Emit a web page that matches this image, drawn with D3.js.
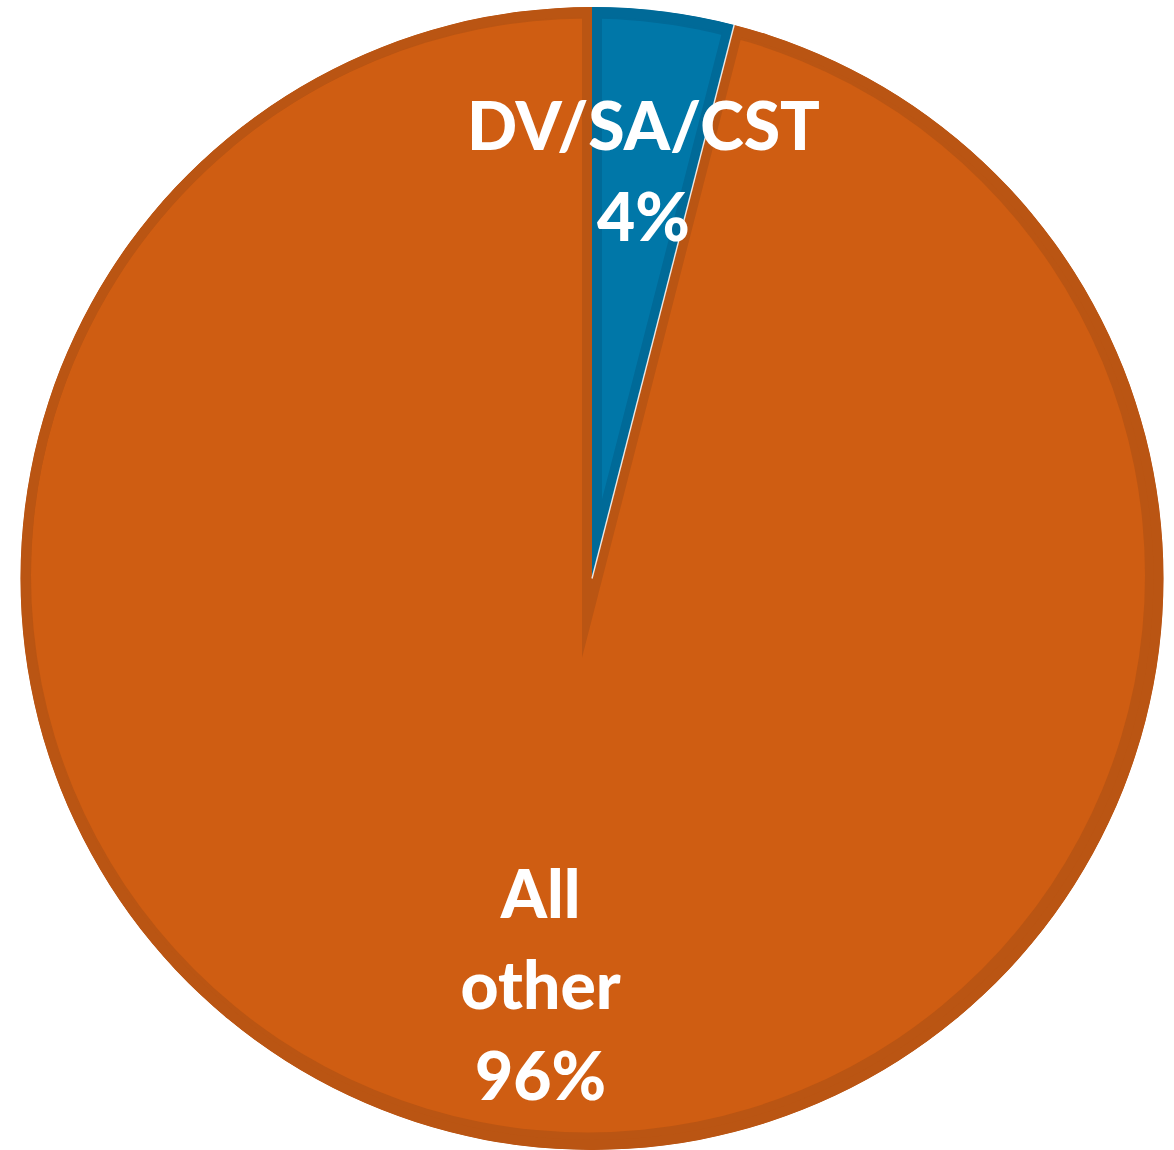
<!DOCTYPE html>
<html><head><meta charset="utf-8">
<script src="https://cdn.jsdelivr.net/npm/d3@7"></script>
<style>html,body{margin:0;padding:0;background:#fff;} svg{display:block}</style>
</head><body>
<svg id="chart" width="1174" height="1150"></svg>
<script>
const categories = ["DV/SA/CST", "All other"];
const values = [4, 96];
const fillColors = ["#0077A8", "#CF5D12"];
const borderColors = ["#006A98", "#BA5513"];

const cx = 592, cy = 578.5, R = 571.5, labelR = 410;
const svg = d3.select("#chart");
const g = svg.append("g").attr("transform", `translate(${cx},${cy})`);
const data = categories.map((c, i) => ({category: c, value: values[i], fill: fillColors[i], border: borderColors[i]}));
const pie = d3.pie().sort(null).value(d => d.value);
const arcs = pie(data);
const arc = d3.arc().innerRadius(0).outerRadius(R);
const total = d3.sum(values);

const defs = svg.append("defs");
arcs.forEach((a, i) => {
  defs.append("clipPath").attr("id", "clip" + i).append("path").attr("d", arc(a));
});

const slices = g.selectAll("g.slice").data(arcs).join("g")
  .attr("class", "slice")
  .attr("clip-path", (d, i) => `url(#clip${i})`);
slices.append("path").attr("d", arc).attr("fill", d => d.data.border);
slices.append("circle").attr("cx", -4).attr("cy", -3).attr("r", R - 14.5).attr("fill", d => d.data.fill);
slices.append("path").attr("d", arc)
  .attr("fill", "none")
  .attr("stroke", d => d.data.border)
  .attr("stroke-width", 20)
  .attr("stroke-linejoin", "miter")
  .attr("stroke-miterlimit", 30);

// thin light edge between the first slice and the next
const endA = arcs[0].endAngle;
g.append("line")
  .attr("x1", 0).attr("y1", 0)
  .attr("x2", R * Math.sin(endA)).attr("y2", -R * Math.cos(endA))
  .attr("stroke", "#ffffff").attr("stroke-width", 1.4).attr("stroke-opacity", 0.85);

// labels
const labelArc = d3.arc().innerRadius(labelR).outerRadius(labelR);
const lh = 91, cap = 48;
arcs.forEach(a => {
  const [x, y] = labelArc.centroid(a);
  const pct = Math.round(a.value / total * 100) + "%";
  const lines = [...a.data.category.split(" "), pct];
  const text = g.append("text")
    .attr("text-anchor", "middle")
    .attr("fill", "#ffffff")
    .style("font-family", "Lato, 'Open Sans', sans-serif")
    .style("font-weight", 900)
    .style("font-size", "66px");
  lines.forEach((ln, j) => {
    text.append("tspan")
      .attr("x", x)
      .attr("y", y + (j - (lines.length - 1) / 2) * lh + cap / 2)
      .text(ln);
  });
});
</script>
</body></html>
